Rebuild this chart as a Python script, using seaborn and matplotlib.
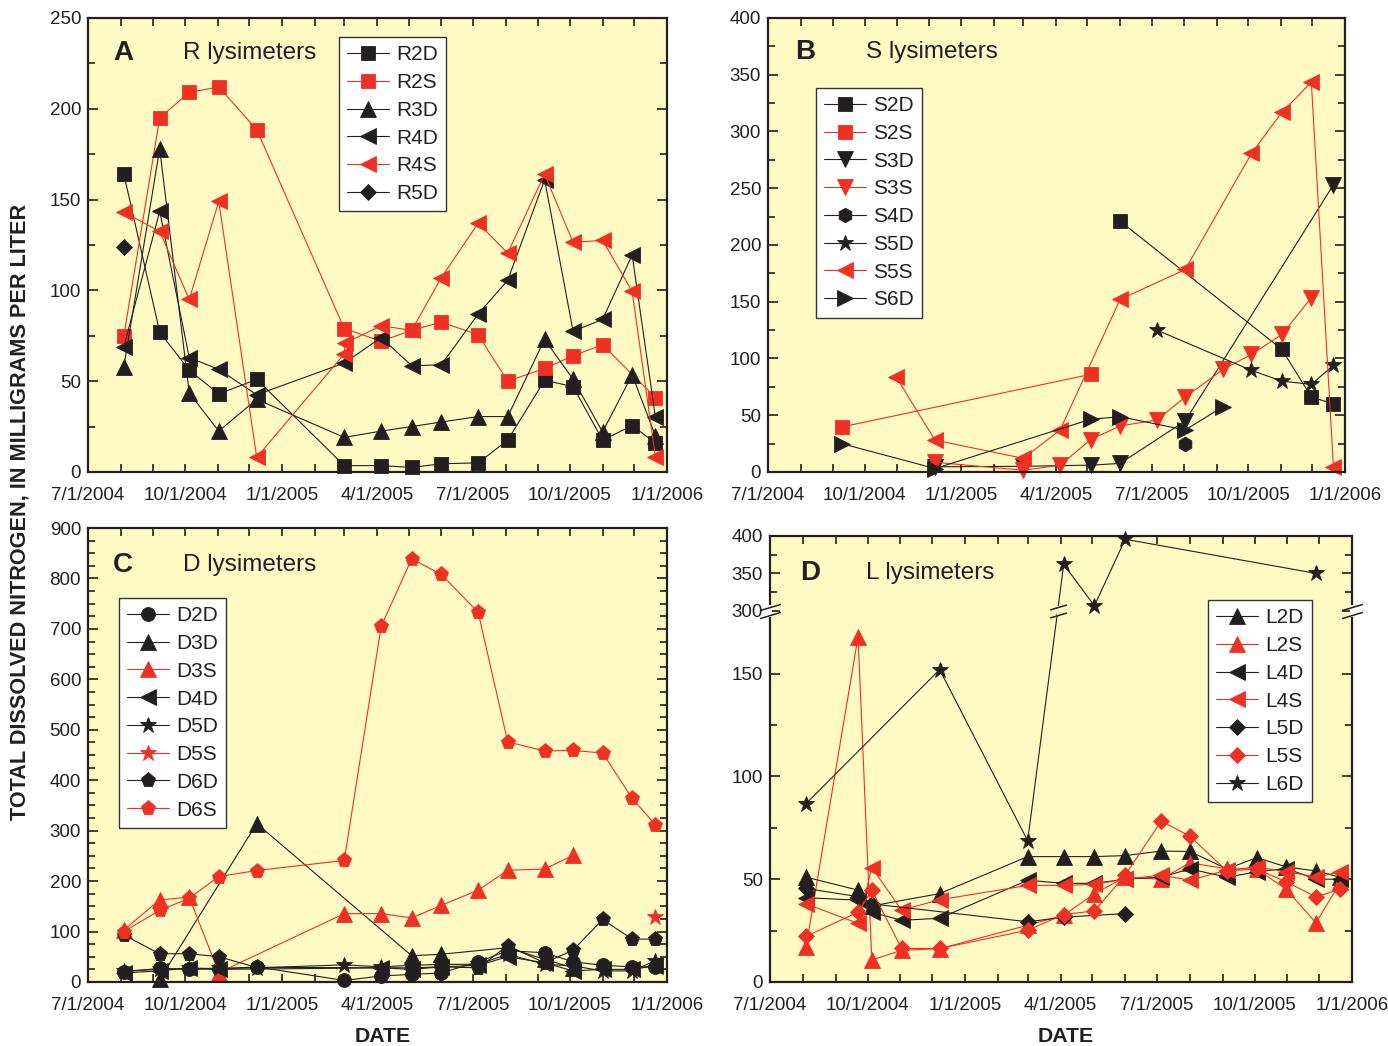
import numpy as np
import pandas as pd
import matplotlib
matplotlib.use('Agg')
import matplotlib.pyplot as plt
import matplotlib.dates as mdates
from matplotlib import ticker, transforms
import seaborn as sns

N = None

# panel A - R lysimeters
a_dates = ['2004-08-04', '2004-09-07', '2004-10-05', '2004-11-02', '2004-12-08', '2005-03-01', '2005-03-02',
           '2005-04-05', '2005-05-04', '2005-06-01', '2005-07-06', '2005-08-03', '2005-09-07', '2005-10-04',
           '2005-11-01', '2005-11-29', '2005-12-21']
r2d = [164, 77, 56, 43, 51, 3.5, N, 3.5, 2.5, 4.5, 5, 17.5, 50.5, 47, 17.5, 25.5, 16]
r2s = [75, 195, 209, 212, 188.5, 79, N, 72, 78, 82.5, 75.5, 50, 57, 64, 70, N, 41]
r3d = [58, 178, 43.5, 22.5, 40, 19, N, 22.5, 25, 27.5, 30.5, 30.5, 73, 51, 22, 53.5, 20]
r4d = [69, 143.5, 63, 56.5, 42.5, 60, N, 74, 58.5, 59, 87, 105.5, 161, 77.5, 84, 119.5, 30.5]
r4s = [143, 132.5, 95, 149, 8, 65, 71, 80.5, 78, 107, 137, 120.5, 164, 126.5, 127.5, 99.5, 8.5]
r5d = [124] + [N] * 16

# panel B - S lysimeters
b_dates = ['2004-09-09', '2004-10-31', '2004-12-07', '2005-03-01', '2005-04-05', '2005-05-04', '2005-06-01',
           '2005-07-06', '2005-08-02', '2005-09-07', '2005-10-04', '2005-11-02', '2005-11-30', '2005-12-21']
s2d = [N, N, N, N, N, N, 221, N, N, N, N, 108, 66, 60]
s2s = [39.6, N, N, N, N, 86, N, N, N, N, N, N, N, N]
s3d = [N, N, 4.5, 5, N, 6, 7.5, N, 45, N, N, N, N, 253]
s3s = [N, N, 8.5, 1.5, 6, 28.5, 40.5, 45.8, 66, 90.4, 103.6, 121.2, 153.5, N]
s4d = [N, N, N, N, N, N, N, N, 25, N, N, N, N, N]
s5d = [N, N, N, N, N, N, N, 125, N, N, 89.5, 80, 77.2, 93.9]
s5s = [N, 83.6, 28, 12, 37, N, 152, N, 178.4, N, 280.6, 317, 343.4, 4.7]
s6d = [25, N, 3, N, N, 46.4, 48.7, N, 37, 57.5, N, N, N, N]

# panel C - D lysimeters
c_dates = ['2004-08-04', '2004-09-07', '2004-10-05', '2004-11-02', '2004-12-08', '2005-03-01', '2005-04-05',
           '2005-05-04', '2005-06-01', '2005-07-06', '2005-08-03', '2005-09-07', '2005-10-04', '2005-11-01',
           '2005-11-29', '2005-12-21']
d2d = [20, 27, 25, 26, 30, 3, 12, 15, 18, 40, 62, 58, 40, 33, 30, 30]
d3d = [N, 5, N, N, 314, N, N, 52, 55, N, 68, 45, 28, N, N, N]
d3s = [103, 163, 168, 18.5, N, 135.5, 135.5, 127, 152, 182, 221.5, 224, 251, N, N, N]
d4d = [18, 22, 28, 25, N, N, 28, 25, 30, 33, 50, 38, 22, 25, 25, 32]
d5d = [22, 25, 27, 27, 28, 34, 30, 33, 35, 35, 55, 35, 32, 22, 22, 42]
d5s = [N] * 15 + [129]
d6d = [93, 56, 56, 50, 29, N, N, 28, 30, 28, 72, 38, 63, 124, 85, 85]
d6s = [100, 142, 166, 209, 221, 241, 705, 839, 808, 733, 476, 458, 459, 454, 364, 312]

# panel D - L lysimeters
d_dates = ['2004-08-04', '2004-09-22', '2004-10-05', '2004-11-02', '2004-12-08', '2005-03-01', '2005-04-04',
           '2005-05-03', '2005-06-01', '2005-07-05', '2005-08-01', '2005-09-05', '2005-10-03', '2005-10-31',
           '2005-11-28', '2005-12-21']
l2d = [51, 44.7, 37, N, 43, 61, 61, 61, 61.5, 63.7, 63.5, 55, 60.5, 56, 54, 51]
l2s = [17, 168, 10.7, 15.4, 16.2, 27.6, 32.5, 43, 51, 50, 58, 55, 55, 45, 28.8, 48.5]
l4d = [41, 39.8, 34, 30, 31, 49.5, 48, 48, 50, 51, 55, 51, 53.6, 55.2, 50, 50]
l4s = [38, 28.5, 55.7, 35, 40, 47, 47, 47.5, 50, 52, 49.5, 54.4, 56, 53.6, 51.1, 53.6]
l5d = [45.5, 41.5, 38, N, N, 29.3, 31.5, N, 33.3, N, N, N, N, N, N, N]
l5s = [22.2, 34, 44.7, 16.3, 16.3, 25.2, 32.8, 34.6, 52, 78.3, 70.9, 54, 55, 48.7, 41.4, 45.2]
l6d = [86.8, N, N, N, 152, 68.7, 362, 306.7, 395.6, N, N, N, N, N, 350, N]

BLACK = '#231f20'
RED = '#ee3124'
BG = '#fff9c4'
MS = {'s': 9.5, '^': 11, '<': 11, '>': 11, 'v': 11, 'D': 8.5, 'h': 10.5, '*': 12, 'o': 10, 'p': 11}

sns.set_theme(style='ticks')
plt.rcParams['font.family'] = ['Liberation Sans', 'DejaVu Sans']

fig = plt.figure(figsize=(13.88, 10.46), dpi=100)


def fmt_date(v, pos):
    d = mdates.num2date(v)
    return f'{d.month}/{d.day}/{d.year}' if d.month in (1, 4, 7, 10) else ''


def draw(rect, dates, series, ylim, y_major, y_minor, letter, title, leg_at, yscale=None):
    ax = fig.add_axes(rect)
    ax.set_facecolor(BG)
    x = pd.to_datetime(dates)
    handles = []
    for name, vals, color, marker in series:
        s = pd.Series(vals, index=x, dtype=float).dropna()
        sns.lineplot(x=s.index, y=s.values, ax=ax, color=color, marker=marker, markersize=MS[marker],
                     mec=color, mew=0.6, lw=0.8, estimator=None, clip_on=False)
        handles.append(ax.lines[-1])
    if yscale is not None:
        ax.set_yscale('function', functions=yscale)
    ax.set_ylim(*ylim)
    ax.set_xlim(pd.Timestamp('2004-07-01'), pd.Timestamp('2006-01-01'))
    ax.xaxis.set_major_locator(mdates.MonthLocator())
    ax.xaxis.set_major_formatter(ticker.FuncFormatter(fmt_date))
    ax.yaxis.set_major_locator(ticker.FixedLocator(y_major))
    ax.yaxis.set_minor_locator(ticker.FixedLocator(y_minor))
    ax.yaxis.set_major_formatter(ticker.FormatStrFormatter('%d'))
    ax.set_xlabel('')
    ax.set_ylabel('')
    ax.tick_params(which='both', direction='in', top=True, right=True, width=1.2, color=BLACK,
                   labelsize=13.5, labelcolor=BLACK)
    ax.tick_params(axis='x', which='major', length=6, pad=11)
    ax.tick_params(axis='y', which='major', length=7, pad=5)
    ax.tick_params(axis='y', which='minor', length=5)
    for sp in ax.spines.values():
        sp.set_linewidth(1.6)
        sp.set_color(BLACK)
    ax.text(letter[0], letter[1], letter[2], transform=ax.transAxes, fontsize=20, fontweight='bold',
            va='center', color=BLACK)
    ax.text(title[0], title[1], title[2], transform=ax.transAxes, fontsize=17.5, va='center', color=BLACK)
    leg = ax.legend(handles, [s[0] for s in series], loc='upper left', bbox_to_anchor=leg_at,
                    frameon=True, fancybox=False, edgecolor='#333333', framealpha=1, fontsize=15,
                    handlelength=2.0, handletextpad=0.35, labelspacing=0.42, borderpad=0.4,
                    borderaxespad=0)
    leg.get_frame().set_linewidth(1.0)
    for t in leg.get_texts():
        t.set_color(BLACK)
    return ax


draw([0.0634, 0.5488, 0.4171, 0.434], a_dates,
     [('R2D', r2d, BLACK, 's'), ('R2S', r2s, RED, 's'), ('R3D', r3d, BLACK, '^'),
      ('R4D', r4d, BLACK, '<'), ('R4S', r4s, RED, '<'), ('R5D', r5d, BLACK, 'D')],
     (0, 250), np.arange(0, 251, 50), np.arange(25, 250, 50),
     (0.043, 0.922, 'A'), (0.164, 0.922, 'R lysimeters'), (0.4335, 0.958))

draw([0.5533, 0.5488, 0.4157, 0.434], b_dates,
     [('S2D', s2d, BLACK, 's'), ('S2S', s2s, RED, 's'), ('S3D', s3d, BLACK, 'v'),
      ('S3S', s3s, RED, 'v'), ('S4D', s4d, BLACK, 'h'), ('S5D', s5d, BLACK, '*'),
      ('S5S', s5s, RED, '<'), ('S6D', s6d, BLACK, '>')],
     (0, 400), np.arange(0, 401, 50), np.arange(25, 400, 50),
     (0.047, 0.926, 'B'), (0.17, 0.926, 'S lysimeters'), (0.083, 0.846))

draw([0.0634, 0.0612, 0.4171, 0.434], c_dates,
     [('D2D', d2d, BLACK, 'o'), ('D3D', d3d, BLACK, '^'), ('D3S', d3s, RED, '^'),
      ('D4D', d4d, BLACK, '<'), ('D5D', d5d, BLACK, '*'), ('D5S', d5s, RED, '*'),
      ('D6D', d6d, BLACK, 'p'), ('D6S', d6s, RED, 'p')],
     (0, 900), np.arange(0, 901, 100), np.arange(25, 900, 25),
     (0.043, 0.918, 'C'), (0.164, 0.918, 'D lysimeters'), (0.0535, 0.846))


# broken y axis for panel D: 0-180 full scale, 300-400 compressed
def fwd(y):
    y = np.asarray(y, dtype=float)
    return np.where(y <= 180, y, np.where(y <= 300, 180 + (y - 180) * 0.005, 180.6 + (y - 300) * 0.364))


def inv(v):
    v = np.asarray(v, dtype=float)
    return np.where(v <= 180, v, np.where(v <= 180.6, 180 + (v - 180) / 0.005, 300 + (v - 180.6) / 0.364))


axd = draw([0.5548, 0.0612, 0.4193, 0.4264], d_dates,
           [('L2D', l2d, BLACK, '^'), ('L2S', l2s, RED, '^'), ('L4D', l4d, BLACK, '<'),
            ('L4S', l4s, RED, '<'), ('L5D', l5d, BLACK, 'D'), ('L5S', l5s, RED, 'D'),
            ('L6D', l6d, BLACK, '*')],
           (0, 400), [0, 50, 100, 150, 300, 350, 400], [25, 75, 125, 325, 375],
           (0.0515, 0.917, 'D'), (0.165, 0.917, 'L lysimeters'), (0.7526, 0.8565),
           yscale=(fwd, inv))

slash = [(-1, -0.3), (1, 0.3)]
gap = [(-0.3, -1), (0.3, -1), (0.3, 1), (-0.3, 1), (-0.3, -1)]


def break_mark(ax, x, y, trans, size, gap_color):
    ax.plot([x], [y], transform=trans, marker=gap, ms=size * 0.55, color=gap_color, mew=0,
            ls='none', clip_on=False, zorder=5)
    for dy in (-4, 4):
        t = transforms.offset_copy(trans, y=dy, units='dots')
        ax.plot([x], [y], transform=t, marker=slash, ms=size, mew=1.1, color=BLACK, mec=BLACK,
                ls='none', clip_on=False, zorder=6)


ybr = 240.0
break_mark(axd, 0, ybr, axd.get_yaxis_transform(), 15, 'white')
break_mark(axd, 1, ybr, axd.get_yaxis_transform(), 15, 'white')

# break on the L6D line where it crosses the gap
dn = mdates.date2num(pd.to_datetime(d_dates))
y0, y1 = fwd(l6d[5]), fwd(l6d[6])
tt = (fwd(ybr) - y0) / (y1 - y0)
xb = dn[5] + tt * (dn[6] - dn[5])
break_mark(axd, xb, ybr, axd.transData, 12, BG)

fig.text(383 / 1388, 1 - 1036 / 1046, 'DATE', fontsize=15.3, fontweight='bold', ha='center', va='center',
         color=BLACK)
fig.text(1066 / 1388, 1 - 1036 / 1046, 'DATE', fontsize=15.3, fontweight='bold', ha='center', va='center',
         color=BLACK)
fig.text(20 / 1388, 1 - 512 / 1046, 'TOTAL DISSOLVED NITROGEN, IN MILLIGRAMS PER LITER', fontsize=15.6,
         fontweight='bold', rotation=90, ha='center', va='center', color=BLACK)

fig.savefig('out.png', dpi=100, facecolor='white')
